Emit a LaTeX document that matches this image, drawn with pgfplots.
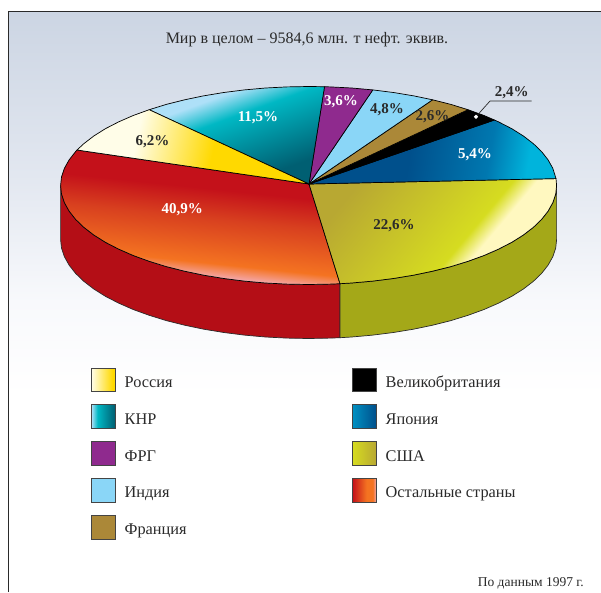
\documentclass[border=0pt]{standalone}
\usepackage{fontspec}
\setmainfont{Liberation Serif}
\usepackage{pgfplots}
\pgfplotsset{compat=1.18}
\definecolor{txt}{HTML}{2A2A2A}
\definecolor{bgA}{HTML}{CCD5E3}\definecolor{bgB}{HTML}{E2E7F0}\definecolor{bgC}{HTML}{F8F9FC}
\pgfdeclareverticalshading{bgsh}{100bp}{color(0bp)=(white);color(25bp)=(white);color(42bp)=(white);color(50bp)=(bgC);color(61bp)=(bgB);color(75bp)=(bgA);color(100bp)=(bgA)}
\definecolor{rusA}{HTML}{FFFDE8}\definecolor{rusB}{HTML}{FFD900}
\pgfdeclarehorizontalshading{rus}{100bp}{color(0bp)=(rusA);color(36bp)=(rusA);color(55bp)=(rusB);color(100bp)=(rusB)}
\pgfdeclarehorizontalshading{russw}{100bp}{color(0bp)=(rusA);color(25bp)=(rusA);color(70bp)=(rusB);color(100bp)=(rusB)}
\definecolor{chA}{HTML}{AEE0F8}\definecolor{chB}{HTML}{00B8C4}\definecolor{chC}{HTML}{005F72}
\pgfdeclareverticalshading{chn}{100bp}{color(0bp)=(chC);color(30bp)=(chC);color(58bp)=(chB);color(68bp)=(chA);color(100bp)=(chA)}
\pgfdeclarehorizontalshading{chnsw}{100bp}{color(0bp)=(chA);color(25bp)=(chA);color(38bp)=(chB);color(75bp)=(chC);color(100bp)=(chC)}
\definecolor{jpA}{HTML}{00508C}\definecolor{jpB}{HTML}{0078B0}\definecolor{jpC}{HTML}{00B4DC}
\pgfdeclarehorizontalshading{jpn}{100bp}{color(0bp)=(jpA);color(45bp)=(jpA);color(63bp)=(jpB);color(72bp)=(jpC);color(100bp)=(jpC)}
\pgfdeclarehorizontalshading{jpnsw}{100bp}{color(0bp)=(jpB!60!jpC);color(25bp)=(jpB!60!jpC);color(75bp)=(jpA);color(100bp)=(jpA)}
\definecolor{usA}{HTML}{B8A832}\definecolor{usB}{HTML}{D6DC20}\definecolor{usC}{HTML}{FFF8C0}
\pgfdeclarehorizontalshading{usa}{100bp}{color(0bp)=(usA);color(26bp)=(usA);color(58bp)=(usB);color(63bp)=(usC);color(100bp)=(usC)}
\pgfdeclarehorizontalshading{usasw}{100bp}{color(0bp)=(usB);color(25bp)=(usB);color(75bp)=(usA);color(100bp)=(usA)}
\definecolor{reA}{HTML}{C4111A}\definecolor{reB}{HTML}{D8401F}\definecolor{reC}{HTML}{F47321}\definecolor{reD}{HTML}{F4A5A5}
\pgfdeclareverticalshading{rest}{100bp}{color(0bp)=(reD);color(30.5bp)=(reD);color(35bp)=(reC);color(50bp)=(reB);color(60bp)=(reA);color(100bp)=(reA)}
\pgfdeclarehorizontalshading{restsw}{100bp}{color(0bp)=(reA);color(25bp)=(reA);color(55bp)=(reC);color(68bp)=(reC);color(75bp)=(reD);color(100bp)=(reD)}
\definecolor{frg}{HTML}{8F2A8E}\definecolor{ind}{HTML}{8AD6F7}\definecolor{fra}{HTML}{AB8838}
\definecolor{wallr}{HTML}{B40E16}\definecolor{wallo}{HTML}{A4A818}
\definecolor{swb}{HTML}{444444}
\tikzset{
  slice/.style={draw=black,line width=0.7pt,line join=round},
  wall/.style={draw=txt,line width=0.7pt,line join=round},
  sw/.style={draw=swb,line width=0.9pt},
  lab/.style={font=\fontsize{15}{15}\selectfont\bfseries,text=txt,inner sep=0pt,anchor=base},
  wlab/.style={font=\fontsize{15}{15}\selectfont\bfseries,text=white,inner sep=0pt,anchor=base},
  leg/.style={font=\fontsize{16.3}{16.3}\selectfont,text=txt,anchor=base west,inner sep=0pt},
}
\begin{document}
\begin{tikzpicture}
\begin{axis}[
  width=601pt,height=592pt,scale only axis,hide axis,
  xmin=0,xmax=601,ymin=0,ymax=592,y dir=reverse,
  clip=true,
]
% page and background
\addplot[draw=none,fill=white] coordinates {(0,0)(601,0)(601,592)(0,592)} --cycle;
\addplot[draw=none,shading=bgsh] coordinates {(9,12)(601,12)(601,592)(9,592)} --cycle;
\addplot[draw=txt,line width=0.9pt] coordinates {(8.5,592)(8.5,11.5)(601,11.5)};
% walls
\addplot[wall,fill=wallr] coordinates {(60.6,185.5)(61.5,194.1)(64.4,202.7)(69.1,211.1)(75.6,219.4)(83.8,227.3)(93.8,235.0)(105.4,242.3)(118.6,249.1)(133.2,255.5)(149.2,261.3)(166.3,266.6)(184.6,271.2)(203.8,275.2)(223.8,278.5)(244.4,281.1)(265.5,283.0)(287.0,284.1)(308.6,284.5)(330.2,284.1)(340,283.7)
 (340,337.7)(330.2,338.1)(308.6,338.5)(287.0,338.1)(265.5,337.0)(244.4,335.1)(223.8,332.5)(203.8,329.2)(184.6,325.2)(166.3,320.6)(149.2,315.3)(133.2,309.5)(118.6,303.1)(105.4,296.3)(93.8,289.0)(83.8,281.3)(75.6,273.4)(69.1,265.1)(64.4,256.7)(61.5,248.1)(60.6,239.5)} --cycle;
\addplot[wall,fill=wallo] coordinates {(340,283.7)(351.7,283.0)(372.8,281.1)(393.4,278.5)(413.4,275.2)(432.6,271.2)(450.9,266.6)(468.0,261.3)(484.0,255.5)(498.6,249.1)(511.8,242.3)(523.4,235.0)(533.4,227.3)(541.6,219.4)(548.1,211.1)(552.8,202.7)(555.7,194.1)(556.6,185.5)
 (556.6,239.5)(555.7,248.1)(552.8,256.7)(548.1,265.1)(541.6,273.4)(533.4,281.3)(523.4,289.0)(511.8,296.3)(498.6,303.1)(484.0,309.5)(468.0,315.3)(450.9,320.6)(432.6,325.2)(413.4,329.2)(393.4,332.5)(372.8,335.1)(351.7,337.0)(340,337.7)} --cycle;
% slices
\addplot[slice,shading=rest,shading angle=-6] coordinates {(309,184)(77.0,150)(75.6,151.6)(69.1,159.9)(64.4,168.3)(61.5,176.9)(60.6,185.5)(61.5,194.1)(64.4,202.7)(69.1,211.1)(75.6,219.4)(83.8,227.3)(93.8,235.0)(105.4,242.3)(118.6,249.1)(133.2,255.5)(149.2,261.3)(166.3,266.6)(184.6,271.2)(203.8,275.2)(223.8,278.5)(244.4,281.1)(265.5,283.0)(287.0,284.1)(308.6,284.5)(330.2,284.1)(340,283.7)} --cycle;
\addplot[slice,shading=usa,shading angle=-40] coordinates {(309,184)(340,283.7)(351.7,283.0)(372.8,281.1)(393.4,278.5)(413.4,275.2)(432.6,271.2)(450.9,266.6)(468.0,261.3)(484.0,255.5)(498.6,249.1)(511.8,242.3)(523.4,235.0)(533.4,227.3)(541.6,219.4)(548.1,211.1)(552.8,202.7)(555.7,194.1)(556.6,185.5)(556,178.6)} --cycle;
\addplot[slice,shading=jpn,shading angle=-10] coordinates {(309,184)(556,178.6)(552.8,168.3)(548.1,159.9)(541.6,151.6)(533.4,143.7)(523.4,136.0)(511.8,128.7)(498.6,121.9)(494.4,120)} --cycle;
\addplot[slice,fill=black] coordinates {(309,184)(494.4,120)(484.0,115.5)(468.0,109.7)} --cycle;
\addplot[slice,fill=fra] coordinates {(309,184)(468.0,109.7)(450.9,104.4)(432.6,99.8)} --cycle;
\addplot[slice,fill=ind] coordinates {(309,184)(432.6,99.8)(413.4,95.8)(393.4,92.5)(372.8,89.9)} --cycle;
\addplot[slice,fill=frg] coordinates {(309,184)(372.8,89.9)(351.7,88.0)(330.2,86.9)(324.5,86.7)} --cycle;
\addplot[slice,shading=chn,shading angle=20] coordinates {(309,184)(324.5,86.7)(308.6,86.5)(287.0,86.9)(265.5,88.0)(244.4,89.9)(223.8,92.5)(203.8,95.8)(184.6,99.8)(166.3,104.4)(149.2,109.7)} --cycle;
\addplot[slice,shading=rus,shading angle=-12] coordinates {(309,184)(149.2,109.7)(133.2,115.5)(118.6,121.9)(105.4,128.7)(93.8,136.0)(83.8,143.7)(77.0,150)} --cycle;
% leader
\addplot[draw=txt,line width=0.7pt] coordinates {(476,116.7)(490,101)(531.7,101)};
\addplot[only marks,mark=*,mark size=1.9pt,mark options={draw=white,fill=white}] coordinates {(476,116.7)};
% legend swatches
\addplot[sw,shading=russw] coordinates {(91.5,368)(115,368)(115,391.5)(91.5,391.5)} --cycle;
\addplot[sw,shading=chnsw] coordinates {(91.5,404.5)(115,404.5)(115,428)(91.5,428)} --cycle;
\addplot[sw,fill=frg] coordinates {(91.5,441.5)(115,441.5)(115,465)(91.5,465)} --cycle;
\addplot[sw,fill=ind] coordinates {(91.5,478.5)(115,478.5)(115,502)(91.5,502)} --cycle;
\addplot[sw,fill=fra] coordinates {(91.5,515.5)(115,515.5)(115,539)(91.5,539)} --cycle;
\addplot[sw,fill=black] coordinates {(352.5,368)(376,368)(376,391.5)(352.5,391.5)} --cycle;
\addplot[sw,shading=jpnsw] coordinates {(352.5,404.5)(376,404.5)(376,428)(352.5,428)} --cycle;
\addplot[sw,shading=usasw] coordinates {(352.5,441.5)(376,441.5)(376,465)(352.5,465)} --cycle;
\addplot[sw,shading=restsw] coordinates {(352.5,478.5)(376,478.5)(376,502)(352.5,502)} --cycle;
% texts
\node[font=\fontsize{16}{16}\selectfont,text=txt,inner sep=0pt,anchor=base] at (axis cs:307,43.5) {Мир в целом – 9584,6 млн. т нефт. эквив.};
\node[lab] at (axis cs:152.5,145) {6,2\%};
\node[wlab] at (axis cs:258,121.7) {11,5\%};
\node[wlab] at (axis cs:341,105) {3,6\%};
\node[lab] at (axis cs:387,113.3) {4,8\%};
\node[lab] at (axis cs:432.5,120.7) {2,6\%};
\node[lab] at (axis cs:511.7,96.7) {2,4\%};
\node[wlab] at (axis cs:475,158.3) {5,4\%};
\node[lab] at (axis cs:394,229) {22,6\%};
\node[wlab] at (axis cs:182.3,213.3) {40,9\%};
\node[leg] at (axis cs:124.5,387) {Россия};
\node[leg] at (axis cs:124.5,424) {КНР};
\node[leg] at (axis cs:124.5,461) {ФРГ};
\node[leg] at (axis cs:124.5,497.7) {Индия};
\node[leg] at (axis cs:124.5,534) {Франция};
\node[leg] at (axis cs:385.5,387) {Великобритания};
\node[leg] at (axis cs:385.5,424) {Япония};
\node[leg] at (axis cs:385.5,461) {США};
\node[leg] at (axis cs:385.5,497.7) {Остальные страны};
\node[font=\fontsize{13.5}{13.5}\selectfont,text=txt,anchor=base east,inner sep=0pt] at (axis cs:584,586) {По данным 1997 г.};
\end{axis}
\end{tikzpicture}
\end{document}
